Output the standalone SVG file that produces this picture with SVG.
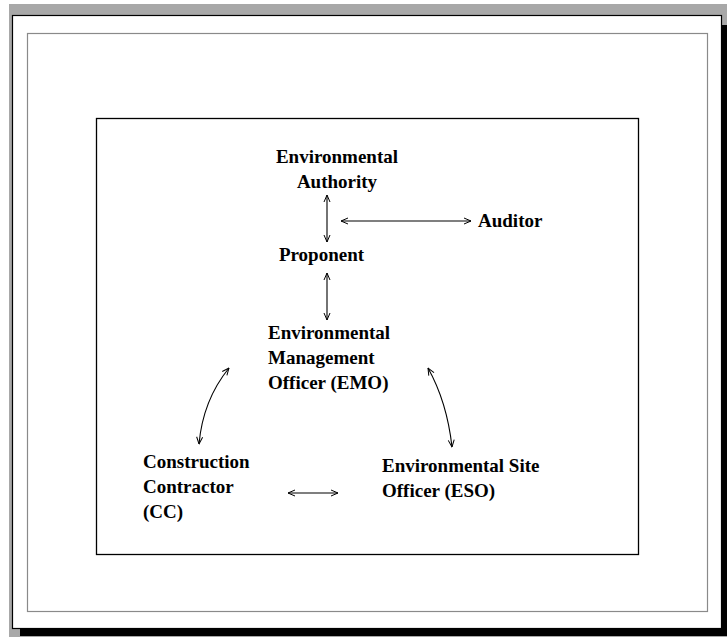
<svg xmlns="http://www.w3.org/2000/svg" width="727" height="637" viewBox="0 0 727 637">
<style>
.t{font-family:"Liberation Serif","Times New Roman",serif;font-weight:bold;font-size:19px;fill:#000}
.c{fill:none;stroke:#000;stroke-width:1.1}
</style>
<defs>
<marker id="ah" viewBox="0 0 8 8" refX="7.5" refY="4" markerWidth="8" markerHeight="8" markerUnits="userSpaceOnUse" orient="auto-start-reverse">
<path d="M0.5,1 L7.5,4 L0.5,7" fill="none" stroke="#000" stroke-width="1"/>
</marker>
</defs>
<g id="page">
<rect x="9" y="4" width="718" height="633" fill="#a8a8a8"/>
<rect x="20" y="25" width="707" height="611" fill="#000"/>
<rect x="12.5" y="15.5" width="709" height="613" fill="#fff" stroke="#000" stroke-width="1.2"/>
<rect x="27.5" y="33.5" width="680" height="578" fill="none" stroke="#8a8a8a" stroke-width="1.2"/>
<rect x="96.5" y="118.5" width="542" height="436" fill="none" stroke="#000" stroke-width="1.3"/>
</g>
<g id="authority"><text class="t" x="337" y="163" text-anchor="middle">Environmental</text><text class="t" x="337" y="188" text-anchor="middle">Authority</text></g>
<g id="auditor"><text class="t" x="478" y="227">Auditor</text></g>
<g id="proponent"><text class="t" x="321.5" y="261" text-anchor="middle">Proponent</text></g>
<g id="emo"><text class="t" x="268" y="339">Environmental</text><text class="t" x="268" y="364">Management</text><text class="t" x="268" y="389">Officer (EMO)</text></g>
<g id="cc"><text class="t" x="143" y="468">Construction</text><text class="t" x="143" y="493">Contractor</text><text class="t" x="143" y="518">(CC)</text></g>
<g id="eso"><text class="t" x="382" y="472">Environmental Site</text><text class="t" x="382" y="497">Officer (ESO)</text></g>
<g id="connectors">
<line class="c" x1="327" y1="195" x2="327" y2="242" marker-start="url(#ah)" marker-end="url(#ah)" stroke="#333"/>
<line class="c" x1="341" y1="221" x2="471" y2="221" marker-start="url(#ah)" marker-end="url(#ah)"/>
<line class="c" x1="327" y1="273" x2="327" y2="320" marker-start="url(#ah)" marker-end="url(#ah)" stroke="#333"/>
<path class="c" d="M229,368 Q203,400 199,444" marker-start="url(#ah)" marker-end="url(#ah)"/>
<path class="c" d="M428,368 Q447,402 452,447" marker-start="url(#ah)" marker-end="url(#ah)"/>
<line class="c" x1="288" y1="493" x2="338" y2="493" marker-start="url(#ah)" marker-end="url(#ah)"/>
</g>
</svg>
